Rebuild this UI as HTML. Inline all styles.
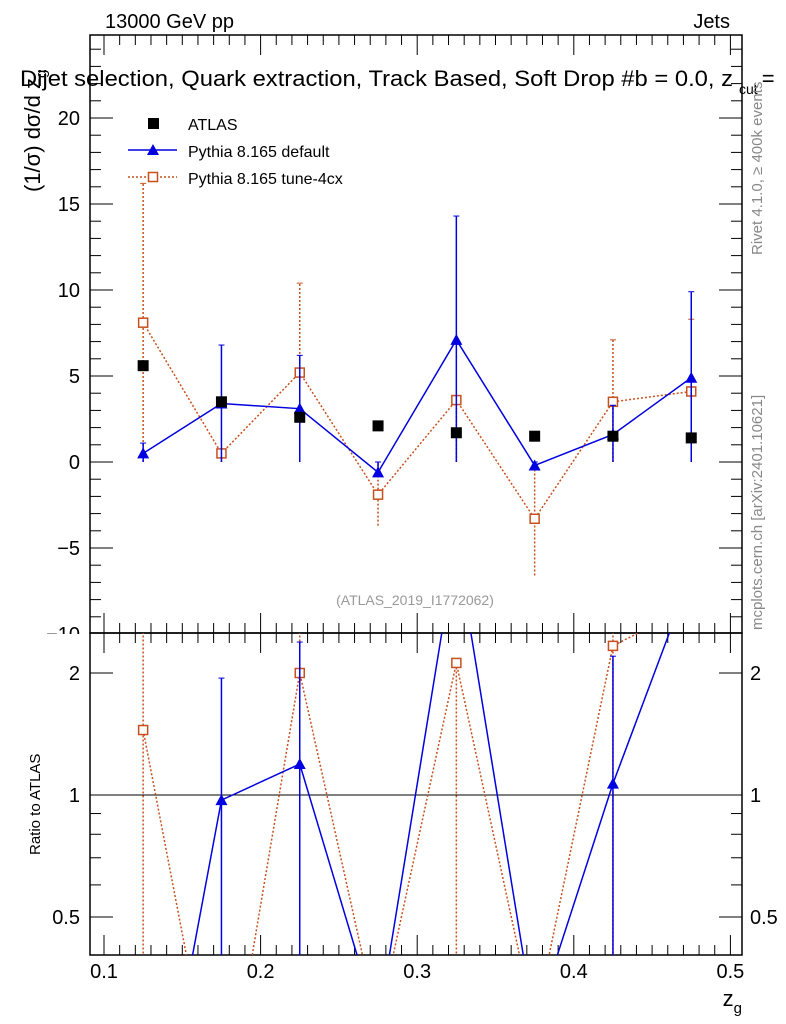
<!DOCTYPE html>
<html><head><meta charset="utf-8"><style>
html,body{margin:0;background:#fff;overflow:hidden;width:786px;height:1024px;}
svg{display:block;font-family:"Liberation Sans",sans-serif;}
</style></head><body>
<svg id="c" width="786" height="1024" viewBox="0 0 786 1024" xmlns="http://www.w3.org/2000/svg">
<defs>
<clipPath id="cm"><rect x="90" y="35" width="652" height="598"/></clipPath>
<clipPath id="cr"><rect x="90" y="633" width="652" height="322"/></clipPath>
<clipPath id="cl"><rect x="0" y="0" width="90" height="634"/></clipPath>
</defs>
<text x="105" y="28" font-size="20">13000 GeV pp</text>
<text x="730" y="28" font-size="20" text-anchor="end">Jets</text>
<text x="20" y="86" font-size="22"><tspan textLength="713" lengthAdjust="spacingAndGlyphs">Dijet selection, Quark extraction, Track Based, Soft Drop #b = 0.0, z</tspan><tspan font-size="14" dx="6" dy="8">cut</tspan><tspan dy="-8" dx="4">=</tspan></text>
<text transform="translate(40,192) rotate(-90)" font-size="22">(1/σ) dσ/d z<tspan font-size="15" dy="6">g</tspan></text>
<text transform="translate(762,255) rotate(-90)" font-size="15" fill="#888">Rivet 4.1.0, ≥ 400k events</text>
<text transform="translate(762,630) rotate(-90)" font-size="15" fill="#888">mcplots.cern.ch [arXiv:2401.10621]</text>
<text x="415" y="605" font-size="14" fill="#999" text-anchor="middle">(ATLAS_2019_I1772062)</text>
<text transform="translate(40,855) rotate(-90)" font-size="15">Ratio to ATLAS</text>
<text x="742" y="1006" font-size="22" text-anchor="end">z<tspan font-size="15" dy="7">g</tspan></text>
<g id="g"></g>
</svg>
<script>
const zg=[0.125,0.175,0.225,0.275,0.325,0.375,0.425,0.475];
const atlas=[5.6,3.5,2.6,2.1,1.7,1.5,1.5,1.4];
const defV=[0.5,3.4,3.1,-0.6,7.1,-0.2,1.6,4.9];
const defLo=[0,0,0,-0.6,0,-0.2,0,0];
const defHi=[1.1,6.8,6.2,0,14.3,0,3.3,9.9];
const tunV=[8.1,0.5,5.2,-1.9,3.6,-3.3,3.5,4.1];
const tunLo=[0,0,0,-3.7,0,-6.6,0,0];
const tunHi=[16.2,0.5,10.4,0,3.6,0,7.1,8.3];
const xTicks=[0.1,0.2,0.3,0.4,0.5];
const yTicks=[-10,-5,0,5,10,15,20];
const rTicks=[0.5,1,2];
const NS="http://www.w3.org/2000/svg";
const G=document.getElementById('g');
const X=v=>104+(v-0.1)*1566;
const Y=v=>462-v*17.2;
const R=v=>v<=0?1025:795-Math.log2(Math.max(v,0.01))*122;
const RMIN=0.403,RMAX=2.51;
function el(t,a,p){const e=document.createElementNS(NS,t);for(const k in a)e.setAttribute(k,a[k]);(p||G).appendChild(e);return e;}
let f=el('rect',{x:90,y:35,width:652,height:598,fill:'none',stroke:'#000','stroke-width':1.5});


f=el('rect',{x:90,y:633,width:652,height:322,fill:'none',stroke:'#000','stroke-width':1.5});


for(let i=0;i<=42;i++){const v=0.09+i*0.01;if(v>0.5075)break;const x=X(v);if(x<90)continue;const maj=Math.abs(v*10-Math.round(v*10))<1e-6;const L=maj?20:10;
[[35,1],[633,-1],[633,1],[955,-1]].forEach(([y,d])=>el('line',{x1:x,x2:x,y1:y,y2:y+d*L,stroke:'#000'}));}
xTicks.forEach(v=>{const t=el('text',{x:X(v),y:978,'font-size':20,'text-anchor':'middle'});t.textContent=v;

});
for(let v=-10;v<=24;v++){const y=Y(v);if(y<35||y>633)continue;const L=v%5===0?23:11;
el('line',{x1:90,x2:90+L,y1:y,y2:y,stroke:'#000'});el('line',{x1:742,x2:742-L,y1:y,y2:y,stroke:'#000'});}
const gl=el('g',{'clip-path':'url(#cl)'});
yTicks.forEach(v=>{const t=el('text',{x:80,y:Y(v)+7,'font-size':20,'text-anchor':'end'},gl);t.textContent=v<0?'−'+(-v):v;

});
[0.4,0.5,0.6,0.7,0.8,0.9,1,2].forEach(v=>{const y=R(v);if(y<633||y>955)return;const L=rTicks.includes(v)?23:11;
el('line',{x1:90,x2:90+L,y1:y,y2:y,stroke:'#000'});el('line',{x1:742,x2:742-L,y1:y,y2:y,stroke:'#000'});});
rTicks.forEach(v=>{[[80,'end'],[750,'start']].forEach(([x,a])=>{const t=el('text',{x:x,y:R(v)+7,'font-size':20,'text-anchor':a});t.textContent=v;

});});
el('line',{x1:90,x2:742,y1:R(1),y2:R(1),stroke:'#000'});
const gm=el('g',{'clip-path':'url(#cm)'});
const gr=el('g',{'clip-path':'url(#cr)'});
function series(vals,lo,hi,col,dash,name,marker){
 let p=el('polyline',{points:zg.map((z,i)=>X(z)+','+Y(vals[i])).join(' '),fill:'none',stroke:col,'stroke-width':1.5,'stroke-dasharray':dash},gm);
 
 
 let q=el('polyline',{points:zg.map((z,i)=>X(z)+','+R(vals[i]/atlas[i])).join(' '),fill:'none',stroke:col,'stroke-width':1.5,'stroke-dasharray':dash},gr);
 
 
 zg.forEach((z,i)=>{const x=X(z);
  el('line',{x1:x,x2:x,y1:Y(lo[i]),y2:Y(hi[i]),stroke:col,'stroke-width':1.5,'stroke-dasharray':dash},gm);
  el('line',{x1:x-3,x2:x+3,y1:Y(hi[i]),y2:Y(hi[i]),stroke:col},gm);
  const r=vals[i]/atlas[i];
  if(r>RMIN&&r<RMAX){el('line',{x1:x,x2:x,y1:R(Math.max(lo[i],0.01)/atlas[i]),y2:R(hi[i]/atlas[i]),stroke:col,'stroke-width':1.5,'stroke-dasharray':dash},gr);
   el('line',{x1:x-3,x2:x+3,y1:R(hi[i]/atlas[i]),y2:R(hi[i]/atlas[i]),stroke:col},gr);}
  [[gm,Y(vals[i])],[gr,R(r)]].forEach(([g,y])=>{let m;
   if(marker==='tri')m=el('polygon',{points:`${x-6},${y+5} ${x+6},${y+5} ${x},${y-6}`,fill:col},g);
   else m=el('rect',{x:x-4.5,y:y-4.5,width:9,height:9,fill:'#fff',stroke:col,'stroke-width':1.5},g);
   
   });
 });
}
series(tunV,tunLo,tunHi,'#c8501e','2,2','tune-4cx','sq');
series(defV,defLo,defHi,'#0000e0','','default','tri');
zg.forEach((z,i)=>{const m=el('rect',{x:X(z)-5.5,y:Y(atlas[i])-5.5,width:11,height:11,fill:'#000'},gm);

});
const lg=el('g',{});


el('rect',{x:148,y:118,width:11,height:11,fill:'#000'},lg);
el('line',{x1:128,x2:177,y1:150,y2:150,stroke:'#0000e0','stroke-width':1.5},lg);
el('polygon',{points:'147,155 159,155 153,144',fill:'#0000e0'},lg);
el('line',{x1:128,x2:177,y1:177,y2:177,stroke:'#c8501e','stroke-width':1.5,'stroke-dasharray':'2,2'},lg);
el('rect',{x:148.5,y:172.5,width:9,height:9,fill:'#fff',stroke:'#c8501e','stroke-width':1.5},lg);
[['ATLAS',130],['Pythia 8.165 default',157],['Pythia 8.165 tune-4cx',184]].forEach(([s,y])=>{const t=el('text',{x:188,y:y,'font-size':16},lg);t.textContent=s;

});
</script>
</body></html>
